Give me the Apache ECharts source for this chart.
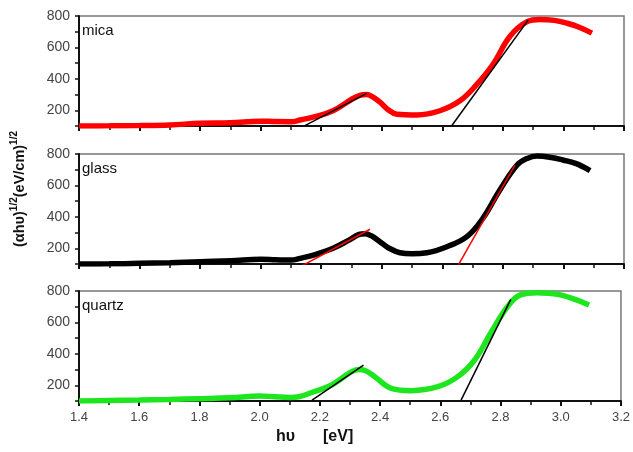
<!DOCTYPE html>
<html>
<head>
<meta charset="utf-8">
<script src="https://cdn.jsdelivr.net/npm/echarts@6/dist/echarts.min.js"></script>
<style>html,body{margin:0;padding:0;background:#fff}#c{width:633px;height:452px}</style>
</head>
<body>
<div id="c"></div>
<script>
// Energy (eV) and (αhυ)^1/2 values
var micaX = [1.40,1.50,1.60,1.70,1.80,1.90,2.00,2.05,2.10,2.130,2.18,2.239,2.305,2.330,2.350,2.370,2.395,2.42,2.450,2.516,2.592,2.658,2.714,2.767,2.823,2.880,2.922,2.97,3.012,3.05,3.094];
var micaY = [100,101,103,107,117,120,131,128,127,138,160,197,275,296,300,285,250,205,175,170,197,260,365,491,670,764,778,772,754,730,691];
var glassX = [1.40,1.50,1.60,1.70,1.80,1.90,2.00,2.05,2.10,2.13,2.18,2.239,2.29,2.325,2.345,2.365,2.395,2.42,2.46,2.50,2.549,2.615,2.681,2.734,2.790,2.847,2.88,2.913,2.96,2.998,3.04,3.088];
var glassY = [100,101,104,108,115,120,130,127,125,136,160,200,250,288,293,280,240,205,172,166,172,210,274,391,571,730,772,787,778,762,740,694];
var quartzX = [1.40,1.50,1.60,1.70,1.80,1.90,2.00,2.05,2.10,2.130,2.18,2.239,2.300,2.328,2.350,2.380,2.437,2.503,2.592,2.658,2.714,2.767,2.823,2.866,2.922,2.96,2.998,3.05,3.094];
var quartzY = [100,103,106,110,115,120,132,127,123,127,159,202,280,300,294,258,181,166,191,255,361,531,700,775,789,785,775,745,711];
// tangent lines [x, y] endpoints
var micaFit1 = [[2.146,102],[2.350,308]];
var micaFit2 = [[2.631,102],[2.884,775]];
var glassFit1 = [[2.135,87],[2.361,321]];
var glassFit2 = [[2.653,94],[2.840,730]];
var quartzFit1 = [[2.174,106],[2.345,329]];
var quartzFit2 = [[2.669,106],[2.834,747]];
var xTicks = [1.4,3.2,0.2];
var yRange = [100,800,100];
var panelNames = ['mica','glass','quartz'];

function zip(a,b){return a.map(function(v,i){return [v,b[i]];});}

var tops = [16,154,291];
var grids = [], xAxes = [], yAxes = [], series = [], graphics = [];
var curves = [[micaX,micaY,'#ff0000','#000000',micaFit1,micaFit2],
              [glassX,glassY,'#000000','#ff0000',glassFit1,glassFit2],
              [quartzX,quartzY,'#1ee61e','#000000',quartzFit1,quartzFit2]];
for (var i=0;i<3;i++){
  grids.push({left:79, top:tops[i], width:545, height:110, show:true, borderColor:'#777', borderWidth:1.5, backgroundColor:'transparent'});
  xAxes.push({type:'value', gridIndex:i, min:xTicks[0], max:xTicks[1], interval:xTicks[2],
    axisLine:{show:true,onZero:false,lineStyle:{color:'#111',width:2}},
    axisTick:{show:true,length:5,lineStyle:{color:'#111',width:2}},
    minorTick:{show:true,splitNumber:2,length:4,lineStyle:{color:'#111',width:1.5}},
    splitLine:{show:false},
    axisLabel:{show:i===2, margin:10, fontSize:13, color:'#444', fontFamily:'Liberation Sans',
      formatter:function(v){return v.toFixed(1);}}});
  yAxes.push({type:'value', gridIndex:i, min:yRange[0], max:yRange[1], interval:yRange[2],
    axisLine:{show:true,lineStyle:{color:'#111',width:2}},
    axisTick:{show:true,length:4,lineStyle:{color:'#111',width:1.5}},
    splitLine:{show:false},
    axisLabel:{margin:9, fontSize:14, color:'#444', fontFamily:'Liberation Sans',
      formatter:function(v){return (v%200===0)?String(v):'';}}});
  var c = curves[i];
  series.push({type:'line', xAxisIndex:i, yAxisIndex:i, data:zip(c[0],c[1]), smooth:0.4, showSymbol:false,
    lineStyle:{color:c[2],width:5.5}, z:2});
  series.push({type:'line', xAxisIndex:i, yAxisIndex:i, data:c[4], showSymbol:false,
    lineStyle:{color:c[3],width:1.5}, z:3});
  series.push({type:'line', xAxisIndex:i, yAxisIndex:i, data:c[5], showSymbol:false,
    lineStyle:{color:c[3],width:1.5}, z:3});
  graphics.push({type:'text', left:82, top:tops[i]+7, style:{text:panelNames[i], fontSize:15, fill:'#111', fontFamily:'Liberation Sans'}});
}
graphics.push({type:'text', x:18, y:189, rotation:Math.PI/2,
  style:{text:'{b|(αhυ)}{s|1/2}{b|(eV/cm)}{s|1/2}', align:'center', verticalAlign:'middle',
    rich:{b:{fontSize:14.5,fontWeight:'bold',fill:'#111',fontFamily:'Liberation Sans',verticalAlign:'bottom'},
          s:{fontSize:10,fontWeight:'bold',fill:'#111',fontFamily:'Liberation Sans',verticalAlign:'top',padding:[0,0,8,0]}}}});
graphics.push({type:'text', left:276, top:429, style:{text:'hυ', fontSize:16, fontWeight:'bold', fill:'#111', fontFamily:'Liberation Sans'}});
graphics.push({type:'text', left:323, top:429, style:{text:'[eV]', fontSize:16, fontWeight:'bold', fill:'#111', fontFamily:'Liberation Sans'}});

var chart = echarts.init(document.getElementById('c'), null, {renderer:'canvas'});
chart.setOption({animation:false, backgroundColor:'#fff', grid:grids, xAxis:xAxes, yAxis:yAxes, series:series, graphic:graphics});
</script>
</body>
</html>
